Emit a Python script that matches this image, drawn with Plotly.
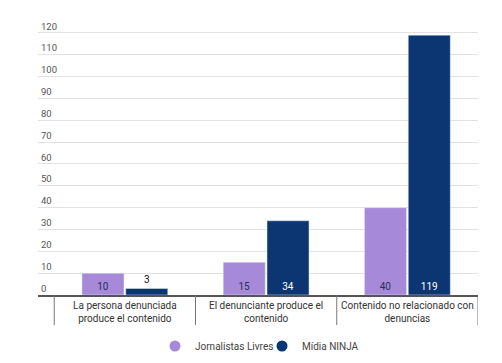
import plotly.graph_objects as go

categories = ["La persona denunciada<br>produce el contenido",
              "El denunciante produce el<br>contenido",
              "Contenido no relacionado con<br>denuncias"]
series_names = ["Jornalistas Livres", "Mídia NINJA"]
jornalistas = [10, 15, 40]
ninja = [3, 34, 119]
y_ticks = [0, 10, 20, 30, 40, 50, 60, 70, 80, 90, 100, 110, 120]

PURPLE = "#a68ad9"
NAVY = "#0b3672"
FONT = "Roboto"

fig = go.Figure()
fig.add_trace(go.Bar(
    x=categories, y=jornalistas, name=series_names[0], marker_color=PURPLE,
    text=[str(v) for v in jornalistas], textposition="inside", insidetextanchor="start",
    textangle=0, insidetextfont=dict(color="#2b2d5c", size=10, family=FONT),
    showlegend=False, hoverinfo="skip"))
fig.add_trace(go.Bar(
    x=categories, y=ninja, name=series_names[1], marker_color=NAVY,
    text=[str(v) for v in ninja],
    textposition=["outside" if v < 8 else "inside" for v in ninja],
    insidetextanchor="start", textangle=0,
    insidetextfont=dict(color="white", size=10, family=FONT),
    outsidetextfont=dict(color="#111111", size=10, family=FONT),
    cliponaxis=False, showlegend=False, hoverinfo="skip"))

# legend entries with circle markers (two positioned legends)
fig.add_trace(go.Scatter(x=[None], y=[None], mode="markers", name=series_names[0],
                         marker=dict(color=PURPLE, size=11, symbol="circle"), legend="legend"))
fig.add_trace(go.Scatter(x=[None], y=[None], mode="markers", name=series_names[1],
                         marker=dict(color=NAVY, size=11, symbol="circle"), legend="legend2"))

# category separators
TOP = 17
PLOT_H = 295 - TOP
for xb in [-0.5, 0.5, 1.5, 2.5]:
    fig.add_shape(type="line", xref="x", yref="paper", x0=xb, x1=xb, y0=0, y1=-30 / PLOT_H,
                  line=dict(color="#777777", width=1))

leg_common = dict(orientation="h", xanchor="left", y=-51 / PLOT_H, yanchor="middle",
                  font=dict(size=10, color="#444444", family=FONT), itemwidth=30,
                  bgcolor="rgba(0,0,0,0)")
fig.update_layout(
    width=502, height=363,
    margin=dict(l=38, r=24, t=TOP, b=68, autoexpand=False),
    plot_bgcolor="white", paper_bgcolor="white",
    barmode="group", bargap=0.38, bargroupgap=0.04,
    font=dict(family=FONT, size=10, color="#444444"),
    legend=dict(x=(155 - 38) / 440, **leg_common),
    legend2=dict(x=(262 - 38) / 440, **leg_common),
)
fig.update_xaxes(
    type="category", range=[-0.615, 2.5], showgrid=False, automargin=False,
    showline=True, linecolor="#555555", linewidth=2,
    ticks="", tickfont=dict(size=10, color="#333333", family=FONT),
    fixedrange=True)
fig.update_yaxes(
    range=[0, 127.3], tickvals=y_ticks, ticktext=[str(v) for v in y_ticks], automargin=False,
    ticklabelposition="inside top", showgrid=True, gridcolor="#e2e2e2", gridwidth=1,
    zeroline=False, showline=False, ticks="", fixedrange=True,
    tickfont=dict(size=9.5, color="#555555", family=FONT))

fig.write_html("out.html", config={"displayModeBar": False},
               post_script="document.body.style.margin='0';")
